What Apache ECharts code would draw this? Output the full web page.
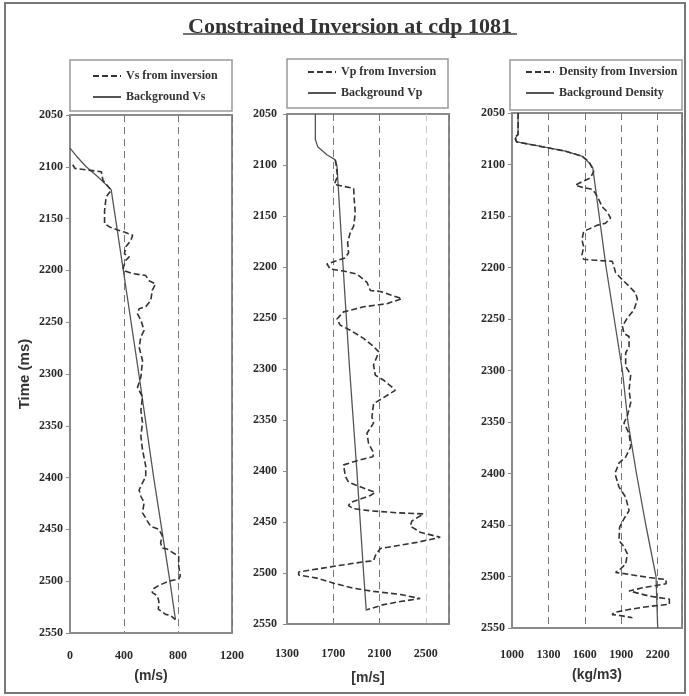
<!DOCTYPE html>
<html>
<head>
<meta charset="utf-8">
<script src="https://cdn.jsdelivr.net/npm/echarts@6/dist/echarts.min.js"></script>
<style>
html,body{margin:0;padding:0;background:#fff;}
#chart{width:689px;height:696px;}
</style>
</head>
<body>
<div id="chart"></div>
<script>
// ---------- DATA: [time (ms), value] ----------
const titleText = 'Constrained Inversion at cdp 1081';
const timeTicks = [2050, 2550, 50];

const vsTicks = [0, 1200, 400];
const vpTicks = [1300, 2700, 400];
const rhoTicks = [1000, 2400, 300];

const vsNames = ['Vs from inversion', 'Background Vs'];
const vpNames = ['Vp from Inversion', 'Background Vp'];
const rhoNames = ['Density from Inversion', 'Background Density'];
const unitNames = ['(m/s)', '[m/s]', '(kg/m3)'];

const vsInversion = [
  [2098, 20], [2101.6, 37], [2104.8, 232], [2113, 244], [2122.6, 305], [2129, 268], [2142, 256],
  [2155, 256], [2158, 293], [2161, 354], [2163, 403], [2166, 464], [2171, 451], [2177, 415],
  [2184, 403], [2187, 439], [2190, 415], [2197, 395], [2200, 395], [2203, 464], [2205, 561],
  [2210, 586], [2213, 634], [2219, 610], [2229, 598], [2235, 561], [2237, 512], [2242, 500],
  [2248, 525], [2258, 549], [2264, 525], [2274, 512], [2287, 537], [2303, 525], [2313, 500],
  [2322, 537], [2335, 525], [2347, 537], [2360, 525], [2373, 537], [2389, 561], [2399, 561],
  [2405, 537], [2412, 512], [2418, 525], [2424, 549], [2434, 537], [2439, 561], [2442, 573],
  [2447, 598], [2450, 659], [2456, 683], [2463, 671], [2468, 683], [2469, 720], [2472, 756],
  [2476, 805], [2485, 805], [2495, 817], [2498, 805], [2500, 732], [2504, 659], [2508, 610],
  [2511, 610], [2514, 647], [2520, 659], [2527, 654], [2532, 708], [2533, 744], [2537, 781]
];
const vsBackground = [
  [2082, 0], [2090, 50], [2100, 120], [2110, 210], [2122, 305], [2200, 395], [2300, 510],
  [2400, 620], [2450, 680], [2500, 740], [2537, 781]
];

const vpInversion = [
  [2095, 1717], [2101, 1726], [2111, 1737], [2119, 1709], [2123, 1876], [2134, 1881], [2147, 1890],
  [2160, 1876], [2166, 1847], [2176, 1824], [2186, 1832], [2191, 1804], [2197, 1645], [2202, 1674],
  [2204, 1789], [2207, 1904], [2215, 1991], [2223, 2020], [2224, 2106], [2231, 2293], [2236, 2163],
  [2239, 1962], [2244, 1789], [2251, 1732], [2257, 1760], [2262, 1847], [2270, 1962], [2278, 2048],
  [2283, 2091], [2288, 2077], [2296, 2048], [2306, 2063], [2311, 2135], [2319, 2221], [2321, 2235],
  [2326, 2163], [2334, 2048], [2347, 2034], [2353, 2048], [2363, 1991], [2373, 2005], [2382, 2048],
  [2386, 2043], [2389, 1933], [2394, 1789], [2405, 1804], [2411, 1832], [2418, 1991], [2421, 2063],
  [2424, 2020], [2431, 1847], [2434, 1832], [2437, 1876], [2439, 2020], [2441, 2250], [2442, 2480],
  [2449, 2379], [2454, 2365], [2460, 2451], [2465, 2624], [2470, 2422], [2476, 2106], [2483, 2063],
  [2488, 2048], [2489, 1962], [2494, 1674], [2499, 1401], [2502, 1401], [2505, 1559], [2510, 1703],
  [2515, 1876], [2518, 2048], [2521, 2279], [2525, 2451], [2528, 2279], [2531, 2135], [2536, 1991]
];
const vpBackground = [
  [2050, 1545], [2075, 1545], [2082, 1565], [2090, 1645], [2095, 1717], [2101, 1732], [2200, 1785],
  [2300, 1841], [2400, 1904], [2450, 1933], [2500, 1962], [2537, 1985]
];

const rhoInversion = [
  [2050, 1050], [2071, 1050], [2073, 1022], [2078, 1036], [2082, 1216], [2087, 1438], [2092, 1576],
  [2097, 1632], [2103, 1659], [2107, 1673], [2113, 1645], [2120, 1521], [2122, 1576], [2124, 1659],
  [2128, 1687], [2134, 1715], [2141, 1742], [2146, 1784], [2152, 1812], [2157, 1770], [2159, 1701],
  [2165, 1590], [2173, 1576], [2180, 1590], [2188, 1576], [2192, 1590], [2193, 1687], [2194, 1825],
  [2199, 1839], [2205, 1853], [2212, 1909], [2218, 1964], [2225, 2019], [2231, 2033], [2241, 2005],
  [2249, 1950], [2257, 1909], [2264, 1922], [2267, 1964], [2277, 1964], [2283, 1936], [2296, 1936],
  [2304, 1978], [2319, 1964], [2331, 1978], [2344, 1950], [2351, 1922], [2361, 1964], [2374, 1978],
  [2384, 1936], [2390, 1881], [2400, 1848], [2413, 1881], [2423, 1936], [2436, 1964], [2444, 1922],
  [2452, 1886], [2465, 1881], [2471, 1922], [2478, 1950], [2488, 1936], [2494, 1881], [2496, 1853],
  [2498, 1964], [2501, 2130], [2503, 2269], [2507, 2269], [2511, 2075], [2514, 1964], [2515, 1978],
  [2519, 2130], [2522, 2296], [2527, 2296], [2529, 2130], [2532, 1964], [2535, 1839], [2537, 1825],
  [2538, 1895], [2540, 1992]
];
const rhoBackground = [
  [2050, 1050], [2071, 1050], [2074, 1030], [2078, 1040], [2082, 1216], [2087, 1440], [2092, 1580],
  [2098, 1632], [2103, 1665], [2200, 1775], [2300, 1909], [2350, 1955], [2400, 2025], [2450, 2102],
  [2500, 2186], [2550, 2200]
];

// ---------- STYLE ----------
const SERIF = '"Liberation Serif","Times New Roman",serif';
const SANS = '"Liberation Sans",Arial,sans-serif';
const INK = '#2a2a2a';
const FRAME = '#8a8a8a';

const grids = [
  {left: 70, top: 115, width: 162, height: 518},
  {left: 287, top: 114, width: 162, height: 510},
  {left: 512, top: 113, width: 170, height: 515}
];
const xTicks = [vsTicks, vpTicks, rhoTicks];
const xLabelMargins = [17, 24, 21];
const xNameGaps = [36, 47, 40];
const yLabelMargins = [7, 10, 7];
const splitColors = [
  ['#777', '#777', '#777', '#777'],
  ['#777', '#777', '#777', '#ccc'],
  ['#777', '#777', '#777', '#777', '#777']
];

function toXY(arr) { return arr.map(p => [p[1], p[0]]); }
const plain = v => String(v);

const option = {
  backgroundColor: '#fff',
  animation: false,
  title: {
    text: titleText,
    left: 183, top: 11,
    textStyle: {fontFamily: SERIF, fontWeight: 'bold', fontSize: 22, color: '#333'}
  },
  legend: [vsNames, vpNames, rhoNames].map((names, i) => ({
    data: names,
    orient: 'vertical',
    left: [92, 307, 525][i],
    top: [70, 66, 66][i],
    padding: 0,
    itemWidth: 28,
    itemHeight: 10,
    itemGap: 9,
    itemStyle: {opacity: 0},
    textStyle: {fontFamily: SERIF, fontWeight: 'bold', fontSize: 12, color: '#333'}
  })),
  grid: grids.map(g => Object.assign({show: true, borderColor: FRAME, borderWidth: 2, backgroundColor: '#fff'}, g)),
  xAxis: xTicks.map((tk, i) => ({
    type: 'value', gridIndex: i, position: 'bottom',
    min: tk[0], max: tk[1], interval: tk[2],
    name: unitNames[i], nameLocation: 'middle', nameGap: xNameGaps[i],
    nameTextStyle: {fontFamily: SANS, fontWeight: 'bold', fontSize: 14, color: '#333'},
    axisLine: {show: true, lineStyle: {color: FRAME, width: 2}},
    axisTick: {show: false},
    axisLabel: {
      margin: xLabelMargins[i], showMaxLabel: i === 0, formatter: plain,
      fontFamily: SERIF, fontWeight: 'bold', fontSize: 12, color: INK
    },
    splitLine: {show: true, lineStyle: {color: splitColors[i], type: [7, 5], width: 1}}
  })),
  yAxis: grids.map((g, i) => ({
    type: 'value', gridIndex: i, inverse: true,
    min: timeTicks[0], max: timeTicks[1], interval: timeTicks[2],
    name: i === 0 ? 'Time (ms)' : '', nameLocation: 'middle', nameRotate: 90, nameGap: 38,
    nameTextStyle: {fontFamily: SANS, fontWeight: 'bold', fontSize: 15, color: '#333'},
    axisLine: {show: true, lineStyle: {color: FRAME, width: 2}},
    axisTick: {show: true, length: 4, lineStyle: {color: FRAME}},
    axisLabel: {margin: yLabelMargins[i], formatter: plain, fontFamily: SERIF, fontWeight: 'bold', fontSize: 12, color: INK},
    splitLine: {show: false}
  })),
  series: [
    {name: vsNames[0], data: toXY(vsInversion), g: 0, dashed: true},
    {name: vsNames[1], data: toXY(vsBackground), g: 0, dashed: false},
    {name: vpNames[0], data: toXY(vpInversion), g: 1, dashed: true},
    {name: vpNames[1], data: toXY(vpBackground), g: 1, dashed: false},
    {name: rhoNames[0], data: toXY(rhoInversion), g: 2, dashed: true},
    {name: rhoNames[1], data: toXY(rhoBackground), g: 2, dashed: false}
  ].map(s => ({
    type: 'line', name: s.name, data: s.data,
    xAxisIndex: s.g, yAxisIndex: s.g,
    symbol: 'none', showSymbol: false, smooth: false,
    color: s.dashed ? '#333' : '#555',
    lineStyle: {color: s.dashed ? '#333' : '#555', width: s.dashed ? 1.6 : 1.3, type: s.dashed ? [6, 3] : 'solid'},
    z: s.dashed ? 3 : 2
  })),
  graphic: [
    {type: 'rect', shape: {x: 5, y: 3, width: 680, height: 690}, style: {fill: 'none', stroke: '#777', lineWidth: 2}, silent: true},
    {type: 'line', shape: {x1: 183, y1: 34, x2: 517, y2: 34}, style: {stroke: '#444', lineWidth: 1.5}, silent: true},
    {type: 'rect', shape: {x: 70, y: 60, width: 162, height: 51}, style: {fill: 'none', stroke: '#999', lineWidth: 1.5}, silent: true},
    {type: 'rect', shape: {x: 287, y: 59, width: 161, height: 49}, style: {fill: 'none', stroke: '#999', lineWidth: 1.5}, silent: true},
    {type: 'rect', shape: {x: 510, y: 60, width: 172, height: 50}, style: {fill: 'none', stroke: '#999', lineWidth: 1.5}, silent: true}
  ]
};

const chart = echarts.init(document.getElementById('chart'), null, {renderer: 'canvas'});
chart.setOption(option);
</script>
</body>
</html>
